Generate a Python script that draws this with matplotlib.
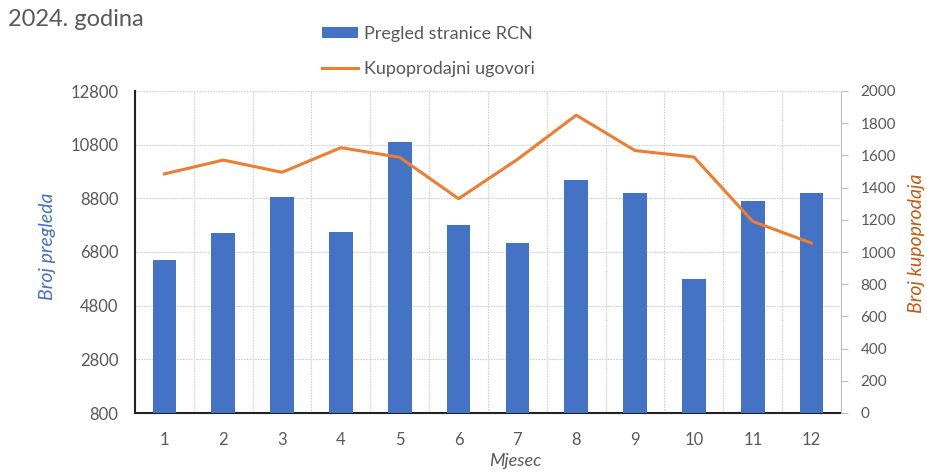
import matplotlib
matplotlib.use("Agg")
import matplotlib.pyplot as plt
from matplotlib.ticker import FixedLocator
import numpy as np

months = [1, 2, 3, 4, 5, 6, 7, 8, 9, 10, 11, 12]
page_views = [6500, 7500, 8840, 7530, 10900, 7800, 7120, 9500, 9000, 5780, 8690, 8990]
contracts = [1485, 1571, 1495, 1648, 1588, 1331, 1575, 1850, 1630, 1590, 1190, 1055]
left_ticks = [800, 2800, 4800, 6800, 8800, 10800, 12800]
right_ticks = list(range(0, 2001, 200))

BLUE = "#4472C4"
ORANGE = "#ED7D31"
TICK_GREY = "#595959"
GRID_GREY = "#D0D0D0"

plt.rcParams["font.family"] = ["Lato", "DejaVu Sans"]

fig = plt.figure(figsize=(9.28, 4.72), dpi=100)
W, H = 928, 472


def fx(px):
    return px / W


def fy(py):
    return 1 - py / H


ax = fig.add_axes([fx(135), fy(413), (841 - 135) / W, (413 - 91) / H])
ax2 = ax.twinx()

x = np.arange(len(months))
bars = ax.bar(x, [v - left_ticks[0] for v in page_views], bottom=left_ticks[0],
              width=0.4, color=BLUE, label="Pregled stranice RCN", zorder=3)
ax.set_xlim(-0.5, len(months) - 0.5)
ax.set_ylim(left_ticks[0], left_ticks[-1])
ax.set_yticks(left_ticks)
ax.set_xticks(x)
ax.set_xticklabels([str(m) for m in months])
ax.xaxis.set_minor_locator(FixedLocator(np.arange(-0.5, len(months), 1.0)))

ax.grid(axis="y", which="major", color=GRID_GREY, linestyle=(0, (1.5, 1)), linewidth=0.8, zorder=0)
ax.grid(axis="x", which="minor", color=GRID_GREY, linestyle=(0, (1.5, 1)), linewidth=0.8, zorder=0)
ax.set_axisbelow(True)

ax.tick_params(axis="both", which="both", length=0, colors=TICK_GREY, labelsize=12)
ax.tick_params(axis="y", pad=12)
ax.tick_params(axis="x", pad=14)

for side in ["top", "right"]:
    ax.spines[side].set_visible(False)
ax.spines["left"].set_color("#222222")
ax.spines["left"].set_linewidth(1.5)
ax.spines["bottom"].set_color("#222222")
ax.spines["bottom"].set_linewidth(1.5)

line, = ax2.plot(x, contracts, color=ORANGE, linewidth=2.2, label="Kupoprodajni ugovori", zorder=4)
ax2.set_ylim(right_ticks[0], right_ticks[-1])
ax2.set_yticks(right_ticks)
ax2.tick_params(axis="y", direction="out", length=5, color="#BFBFBF", colors=TICK_GREY,
                labelsize=11, pad=9)
ax2.tick_params(axis="y", color="#BFBFBF")
for side in ["top", "left", "bottom"]:
    ax2.spines[side].set_visible(False)
ax2.spines["right"].set_color("#BFBFBF")

# Axis titles placed at fixed figure positions
fig.text(fx(48), fy(246), "Broj pregleda", color=BLUE, fontstyle="italic", fontsize=14,
         rotation=90, ha="center", va="center")
fig.text(fx(917), fy(243), "Broj kupoprodaja", color="#C55A11", fontstyle="italic", fontsize=14,
         rotation=90, ha="center", va="center")
fig.text(fx(515), fy(461), "Mjesec", color=TICK_GREY, fontstyle="italic", fontsize=13,
         ha="center", va="center")

fig.text(fx(8), fy(20), "2024. godina", fontsize=17, color=TICK_GREY, va="center", ha="left")

fig.legend(handles=[bars, line], labels=["Pregled stranice RCN", "Kupoprodajni ugovori"],
           loc="upper left", bbox_to_anchor=(fx(322), fy(26)), frameon=False,
           borderpad=0, borderaxespad=0,
           fontsize=13, labelcolor=TICK_GREY, handlelength=2.0, handleheight=0.55,
           labelspacing=1.05, handletextpad=0.3)

fig.savefig("out.png", dpi=100)
